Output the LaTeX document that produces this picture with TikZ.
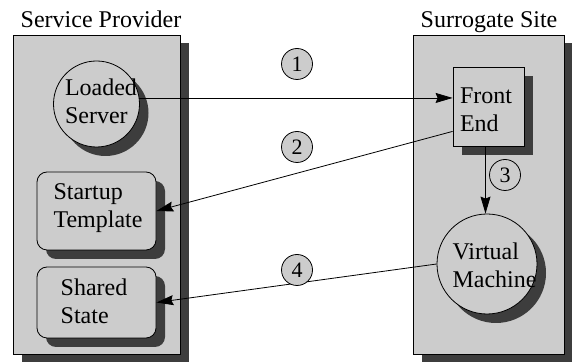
\documentclass[tikz,border=0pt]{standalone}
\usepackage{fontspec}
\newfontfamily\diagfont{Liberation Serif}
\usetikzlibrary{arrows.meta,shadows,positioning}
\definecolor{panelgray}{gray}{0.8}
\definecolor{shadowgray}{gray}{0.24}
\tikzset{
  darkshadow/.style={drop shadow={shadow xshift=4.5pt,shadow yshift=-4.5pt,fill=shadowgray,opacity=1}},
  unit/.style={draw,fill=panelgray,darkshadow,inner sep=0pt},
  circunit/.style={unit,circle},
  boxunit/.style={unit,rounded corners=5pt,minimum width=59.5pt},
  stepnum/.style={circle,draw,fill=panelgray,minimum size=15.5pt,inner sep=0pt,font=\diagfont\fontsize{11}{13}\selectfont},
  lbl/.style={align=left,inner sep=0pt,font=\diagfont\fontsize{12}{14}\selectfont},
  ttl/.style={anchor=base,inner sep=0pt,font=\diagfont\fontsize{12}{14}\selectfont},
  link/.style={-{Stealth[length=8.5pt,width=5pt,inset=1pt]}}
}
\begin{document}
\begin{tikzpicture}[x=0.5pt,y=-0.5pt]
    \useasboundingbox (0,0) rectangle (572,362);
    %%Khung
    \fill[shadowgray] (21.5,43.5) rectangle (189,363);
    \draw[fill=panelgray] (13,35) rectangle (180,354);
    \fill[shadowgray] (421.5,43.5) rectangle (573,363);
    \draw[fill=panelgray] (413,35) rectangle (564,354);
    \node[ttl] (provtitle) at (101,28) {Service Provider};
    \node[ttl] (sitetitle) at (489,28) {Surrogate Site};
    %%Service Provider
    \node[circunit, minimum size=43pt] (srv) at (96.5,104) {};
    \node[boxunit, minimum height=39pt] (tpl) at (96.5,211) {};
    \node[boxunit, minimum height=35.5pt] (st) at (96.5,302.5) {};
    \node[lbl] (srvtext) at (101,101) {Loaded\\Server};
    \node[lbl] (tpltext) at (98,208) {Startup\\Template};
    \node[lbl] (sttext) at (94,301) {Shared\\State};
    %%Surrogate Site
    \node[unit, minimum width=35.5pt, minimum height=39.5pt] (fe) at (488.5,106.5) {};
    \node[circunit, minimum size=50pt] (vm) at (487,264) {};
    \node[lbl] (fetext) at (486,110) {Front\\End};
    \node[lbl] (vmtext) at (494.5,265) {Virtual\\Machine};
    %%Cac mui ten
    \draw[link] (srv.8) -- (srv.8 -| fe.west);
    \draw[link] ([yshift=7.5pt]fe.south west) -- (tpl.east);
    \draw[link] ([xshift=-1.5pt]fe.south) -- ([xshift=-1.5pt]fe.south |- vm.north);
    \draw[link] (vm.west) -- (st.east);
    %%So thu tu
    \node[stepnum] (n1) at (297,64) {1};
    \node[stepnum] (n2) at (297,147) {2};
    \node[stepnum] (n3) at (505,175) {3};
    \node[stepnum] (n4) at (297,270) {4};
\end{tikzpicture}
\end{document}
